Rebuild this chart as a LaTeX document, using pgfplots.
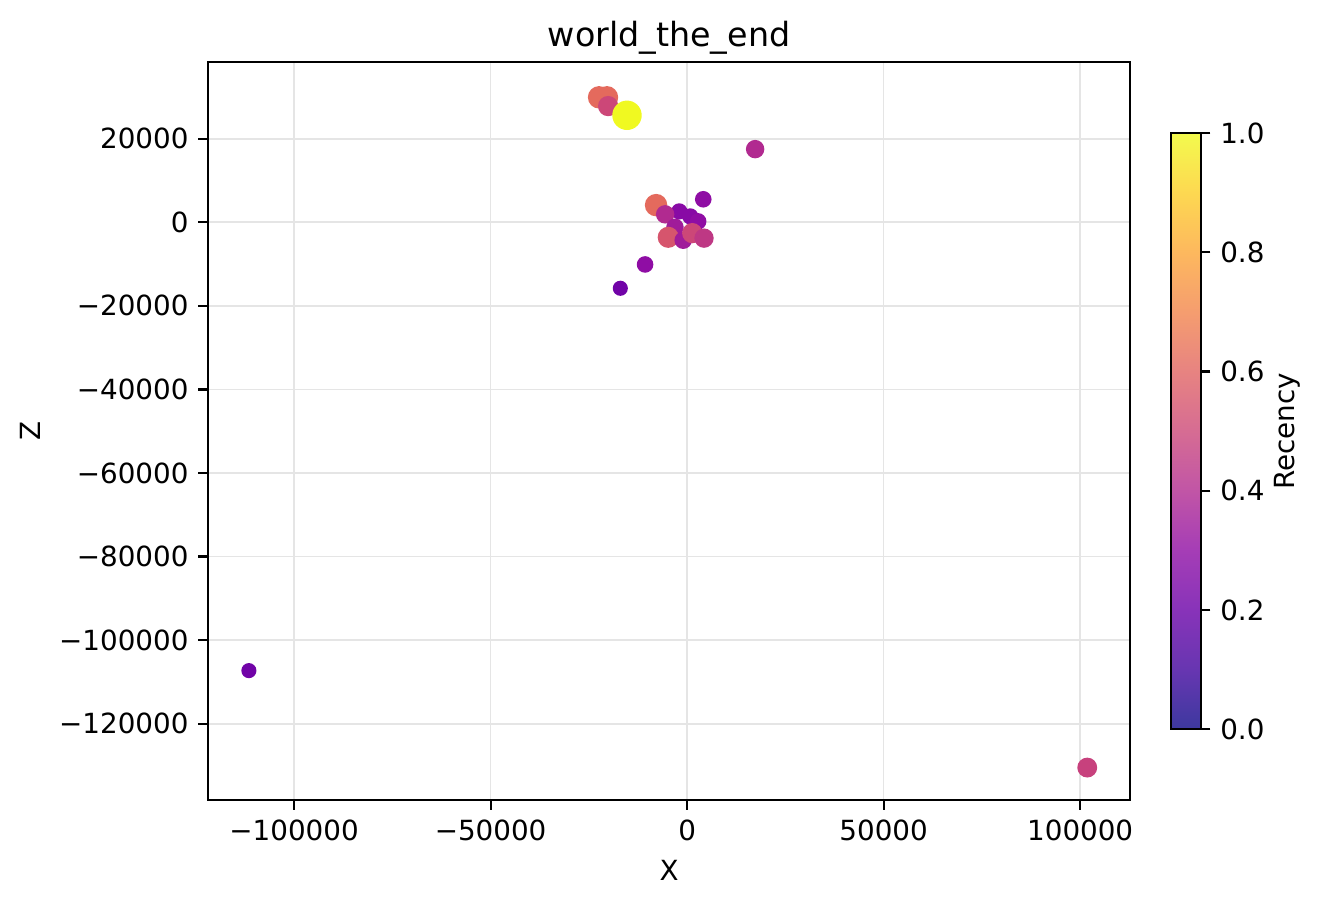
\documentclass[border=0pt]{standalone}
\usepackage{pgfplots}
\pgfplotsset{compat=1.18}
\usepackage{fontspec}
\setmainfont{DejaVu Sans}
\pgfplotsset{colormap={plasmaA}{rgb255=(61,57,159) rgb255=(103,54,177) rgb255=(136,51,185) rgb255=(165,61,182) rgb255=(193,85,166) rgb255=(214,108,147) rgb255=(231,131,129) rgb255=(245,157,111) rgb255=(253,184,94) rgb255=(253,216,81) rgb255=(243,250,77)}}
\pgfplotsset{colormap={plasma}{rgb255=(13,8,135) rgb255=(65,4,157) rgb255=(106,0,168) rgb255=(143,13,164) rgb255=(177,42,144) rgb255=(204,71,120) rgb255=(225,100,98) rgb255=(242,132,75) rgb255=(252,166,54) rgb255=(252,206,37) rgb255=(240,249,33)}}
\pgfplotstableread{
x y v a
-22400 29900 0.62 0.97
-20400 29900 0.62 0.97
-20100 27800 0.50 0.8
-15300 25600 1.00 0.97
17300 17500 0.40 0.8
-7900 4100 0.62 0.97
-2000 2600 0.28 0.97
4100 5500 0.30 0.8
-5600 1900 0.40 0.9
800 1400 0.28 0.8
2800 200 0.30 0.8
-3100 -1200 0.35 0.95
-4800 -3600 0.55 0.95
-1000 -4300 0.35 0.95
1300 -2600 0.50 0.8
4300 -3800 0.45 0.95
-10700 -10100 0.30 0.8
-17000 -15800 0.22 0.97
-111500 -107300 0.22 0.97
101800 -130500 0.48 0.97
}\pts
\begin{document}
\begin{tikzpicture}
\useasboundingbox (-74.9pt,-38.9pt) rectangle (401.1pt,288.1pt);
\begin{axis}[
  at={(0pt,0pt)}, anchor=south west,
  scale only axis, width=332pt, height=265.7pt,
  xmin=-121900, xmax=112700, ymin=-138300, ymax=38300,
  scaled ticks=false,
  xtick={-100000,-50000,0,50000,100000},
  xticklabels={−100000,−50000,0,50000,100000},
  ytick={-120000,-100000,-80000,-60000,-40000,-20000,0,20000},
  yticklabels={−120000,−100000,−80000,−60000,−40000,−20000,0,20000},
  tick pos=left, tick align=outside, major tick length=3.5pt,
  every tick/.style={black, line width=0.8pt},
  axis line style={line width=0.8pt},
  grid=major, major grid style={color=black!10, line width=0.6pt},
  ticklabel style={font=\fontsize{10}{12}\selectfont},
  label style={font=\fontsize{10}{12}\selectfont},
  title style={font=\fontsize{12}{14}\selectfont, yshift=-6.8pt},
  title={world\_the\_end},
  xlabel={X}, ylabel={Z},
  colormap name=plasma,
  point meta min=0, point meta max=1,
  colorbar,
  colorbar style={
    colormap name=plasmaA,
    at={(parent axis.east)}, anchor=west, xshift=6.1pt,
    width=10.8pt, height=214.6pt,
    ytick={0,0.2,0.4,0.6,0.8,1},
    yticklabels={0.0,0.2,0.4,0.6,0.8,1.0},
    ytick pos=right,
    tick align=outside, major tick length=3.5pt,
    every tick/.style={black, line width=0.8pt},
    axis line style={line width=0.8pt},
    ticklabel style={font=\fontsize{10}{12}\selectfont},
    ylabel={Recency},
    ylabel style={at={(axis description cs:1,0.5)}, anchor=center, yshift=-31.3pt, font=\fontsize{10}{12}\selectfont},
  },
]
\addplot[scatter, only marks, mark=*, scatter src=explicit,
  mark options={draw opacity=0},
  scatter/use mapped color={draw=mapped color, fill=mapped color, draw opacity=0},
  visualization depends on={\thisrow{v} \as \vv},
  visualization depends on={\thisrow{a} \as \aa},
  scatter/@pre marker code/.append style={/tikz/mark size=2.0pt+3.3*\vv pt, /tikz/fill opacity=\aa, /tikz/draw opacity=0}]
  table[x=x, y=y, meta=v] {\pts};
\end{axis}
\end{tikzpicture}
\end{document}
